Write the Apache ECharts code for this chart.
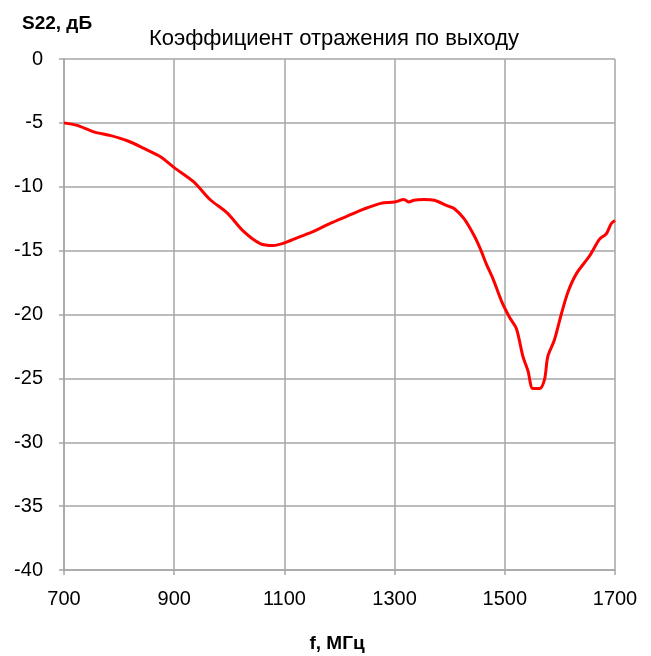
<!DOCTYPE html>
<html>
<head>
<meta charset="utf-8">
<script src="https://cdn.jsdelivr.net/npm/echarts@6/dist/echarts.min.js"></script>
<style>
  html, body { margin: 0; padding: 0; background: #fff; }
  #chart { width: 651px; height: 656px; }
</style>
</head>
<body>
<div id="chart"></div>
<script>
// frequency, MHz
const freq = [700, 724, 754, 785, 815, 845, 875, 900, 935, 965, 996, 1026, 1056, 1080, 1100,
  1123, 1153, 1184, 1214, 1244, 1275, 1300, 1317, 1326, 1335, 1353, 1372, 1396, 1408, 1426,
  1444, 1456, 1467, 1479, 1494, 1509, 1521, 1533, 1542, 1551, 1563, 1572, 1578, 1590, 1603,
  1615, 1630, 1654, 1672, 1684, 1693, 1700];
// S22, dB
const s22 = [-5.0, -5.2, -5.7, -6.0, -6.4, -7.0, -7.65, -8.5, -9.6, -11.0, -12.05, -13.5, -14.45, -14.6, -14.4,
  -14.0, -13.5, -12.85, -12.3, -11.75, -11.3, -11.2, -11.0, -11.2, -11.05, -11.0, -11.05, -11.5, -11.7, -12.5,
  -13.8, -14.9, -16.1, -17.25, -18.95, -20.25, -21.1, -23.3, -24.4, -25.8, -25.8, -25.1, -23.3, -22.0, -19.9,
  -18.2, -16.8, -15.4, -14.1, -13.7, -12.9, -12.65];

const xTicks = { min: 700, max: 1700, step: 200 };
const yTicks = { min: -40, max: 0, step: 5 };

const font = "'Liberation Sans', Arial, sans-serif";
const gridColor = '#a6a6a6';

const chart = echarts.init(document.getElementById('chart'));
chart.setOption({
  backgroundColor: '#fff',
  animation: false,
  title: [
    {
      text: 'Коэффициент отражения по выходу',
      left: 329, top: 23, textAlign: 'center',
      textStyle: { fontFamily: font, fontSize: 22, fontWeight: 'normal', color: '#000' }
    },
    {
      text: 'S22, дБ',
      left: 17, top: 9,
      textStyle: { fontFamily: font, fontSize: 19, fontWeight: 'bold', color: '#000' }
    },
    {
      text: 'f, МГц',
      left: 332, top: 629, textAlign: 'center',
      textStyle: { fontFamily: font, fontSize: 19, fontWeight: 'bold', color: '#000' }
    }
  ],
  grid: { left: 64, right: 36, top: 59, bottom: 86 },
  xAxis: {
    type: 'value',
    min: xTicks.min, max: xTicks.max, interval: xTicks.step,
    axisLine: { onZero: false, lineStyle: { color: gridColor, width: 1.5 } },
    axisTick: { show: true, length: 5, lineStyle: { color: gridColor, width: 1.5 } },
    splitLine: { show: true, lineStyle: { color: gridColor, width: 1.5 } },
    axisLabel: { color: '#000', fontFamily: font, fontSize: 20, margin: 19, formatter: v => String(v) }
  },
  yAxis: {
    type: 'value',
    min: yTicks.min, max: yTicks.max, interval: yTicks.step,
    axisLine: { show: true, lineStyle: { color: gridColor, width: 1.5 } },
    axisTick: { show: true, length: 5, lineStyle: { color: gridColor, width: 1.5 } },
    splitLine: { show: true, lineStyle: { color: gridColor, width: 1.5 } },
    axisLabel: { color: '#000', fontFamily: font, fontSize: 20, margin: 21, formatter: v => String(v) }
  },
  series: [{
    type: 'line',
    data: freq.map((f, i) => [f, s22[i]]),
    showSymbol: false,
    smooth: 0.3,
    lineStyle: { color: '#ff0000', width: 3 }
  }]
});
</script>
</body>
</html>
